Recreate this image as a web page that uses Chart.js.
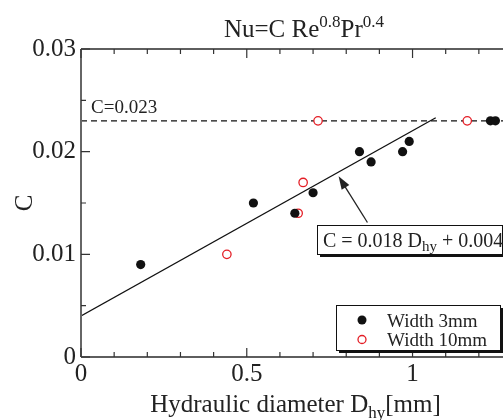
<!DOCTYPE html>
<html>
<head>
<meta charset="utf-8">
<script src="https://cdn.jsdelivr.net/npm/chart.js@4.4.1/dist/chart.umd.min.js"></script>
<style>
  html, body { margin: 0; padding: 0; background: #fff; overflow: hidden; width: 503px; height: 420px; }
  #wrap { width: 540px; height: 420px; }
</style>
</head>
<body>
<div id="wrap"><canvas id="chart" width="540" height="420"></canvas></div>
<script>
// Measured C values vs hydraulic diameter, two channel widths
const width3Dhy = [0.18, 0.52, 0.645, 0.70, 0.84, 0.875, 0.97, 0.99, 1.235, 1.25];
const width3C = [0.009, 0.015, 0.014, 0.016, 0.020, 0.019, 0.020, 0.021, 0.023, 0.023];
const width10Dhy = [0.44, 0.655, 0.67, 0.715, 1.165];
const width10C = [0.010, 0.014, 0.017, 0.023, 0.023];

// Fitted line (C = 0.018 Dhy + 0.004) end points, and the C=0.023 reference
const fitDhy = [0, 1.07];
const fitC = [0.004, 0.0233];
const refDhy = [0, 1.3];
const refC = [0.023, 0.023];

// Axis ticks
const xTicks = [0, 0.5, 1];
const yTicks = [0, 0.01, 0.02, 0.03];
const xMinorStep = 0.1;
const yMinorStep = 0.005;

const SERIF = '"Liberation Serif", "Times New Roman", serif';
const INK = "#222";
const RED = "#e41e26";

const toPoints = (xs, ys) => xs.map((x, i) => ({ x: x, y: ys[i] }));

/**
 * Draw a run of text pieces (for super/subscripts)
 */
function richText(ctx, parts, x, y, align) {
  const widths = parts.map((p) => {
    ctx.font = p.size + "px " + SERIF;
    return ctx.measureText(p.text).width;
  });
  const total = widths.reduce((a, b) => a + b, 0);
  let cx = align === "center" ? x - total / 2 : x;
  ctx.textAlign = "left";
  ctx.textBaseline = "alphabetic";
  parts.forEach((p, i) => {
    ctx.font = p.size + "px " + SERIF;
    ctx.fillText(p.text, cx, y + (p.dy || 0));
    cx += widths[i];
  });
}

const decorations = {
  id: "decorations",
  afterDatasetsDraw(chart) {
    const { ctx, chartArea: a, scales } = chart;
    const sx = scales.x;
    const sy = scales.y;
    ctx.save();

    // frame
    ctx.lineWidth = 1.5;
    ctx.strokeStyle = "#2a2a2a";
    ctx.beginPath();
    ctx.moveTo(a.left, a.top);
    ctx.lineTo(a.right, a.top);
    ctx.lineTo(a.right, a.bottom);
    ctx.lineTo(a.left, a.bottom);
    ctx.stroke();
    ctx.lineWidth = 2;
    ctx.strokeStyle = "#666";
    ctx.beginPath();
    ctx.moveTo(a.left, a.top);
    ctx.lineTo(a.left, a.bottom);
    ctx.stroke();

    // inward ticks
    ctx.lineWidth = 1.2;
    ctx.strokeStyle = "#333";
    ctx.beginPath();
    for (let v = 0; v <= sx.max + 1e-9; v += xMinorStep) {
      const px = sx.getPixelForValue(v);
      const major = xTicks.some((t) => Math.abs(t - v) < 1e-6);
      const len = major ? 9 : 5;
      ctx.moveTo(px, a.bottom);
      ctx.lineTo(px, a.bottom - len);
      ctx.moveTo(px, a.top);
      ctx.lineTo(px, a.top + len);
    }
    for (let v = 0; v <= sy.max + 1e-9; v += yMinorStep) {
      const py = sy.getPixelForValue(v);
      const major = yTicks.some((t) => Math.abs(t - v) < 1e-6);
      const len = major ? 9 : 5;
      ctx.moveTo(a.left, py);
      ctx.lineTo(a.left + len, py);
      ctx.moveTo(a.right, py);
      ctx.lineTo(a.right - len, py);
    }
    ctx.stroke();

    ctx.fillStyle = INK;

    // title
    richText(ctx, [
      { text: "Nu=C Re", size: 25 },
      { text: "0.8", size: 17, dy: -10 },
      { text: "Pr", size: 25 },
      { text: "0.4", size: 17, dy: -10 },
    ], 304, 37, "center");

    // x axis title
    richText(ctx, [
      { text: "Hydraulic diameter D", size: 25 },
      { text: "hy", size: 17, dy: 6 },
      { text: "[mm]", size: 25 },
    ], (a.left + a.right) / 2 - 1, 412, "center");

    // y axis title
    ctx.save();
    ctx.translate(32, (a.top + a.bottom) / 2);
    ctx.rotate(-Math.PI / 2);
    ctx.font = "25px " + SERIF;
    ctx.textAlign = "center";
    ctx.textBaseline = "alphabetic";
    ctx.fillText("C", 0, 0);
    ctx.restore();

    // reference label
    ctx.font = "19px " + SERIF;
    ctx.textAlign = "left";
    ctx.fillText("C=0.023", 91, 113);

    // arrow from the equation box to the fit line
    const tailX = sx.getPixelForValue(0.864);
    const tailY = sy.getPixelForValue(0.0131);
    const tipX = sx.getPixelForValue(0.777);
    const tipY = sy.getPixelForValue(0.0176);
    const ang = Math.atan2(tipY - tailY, tipX - tailX);
    ctx.strokeStyle = INK;
    ctx.lineWidth = 1.3;
    ctx.beginPath();
    ctx.moveTo(tailX, tailY);
    ctx.lineTo(tipX - 10 * Math.cos(ang), tipY - 10 * Math.sin(ang));
    ctx.stroke();
    ctx.beginPath();
    ctx.moveTo(tipX, tipY);
    ctx.lineTo(tipX - 13 * Math.cos(ang) + 4.5 * Math.sin(ang), tipY - 13 * Math.sin(ang) - 4.5 * Math.cos(ang));
    ctx.lineTo(tipX - 13 * Math.cos(ang) - 4.5 * Math.sin(ang), tipY - 13 * Math.sin(ang) + 4.5 * Math.cos(ang));
    ctx.closePath();
    ctx.fill();

    // equation box with drop shadow
    ctx.fillStyle = "#111";
    ctx.fillRect(320, 228, 185, 29);
    ctx.fillStyle = "#fff";
    ctx.fillRect(317, 225, 185, 29);
    ctx.lineWidth = 1;
    ctx.strokeStyle = "#111";
    ctx.strokeRect(317.5, 225.5, 185, 29);
    ctx.fillStyle = INK;
    richText(ctx, [
      { text: "C = 0.018 D", size: 20 },
      { text: "hy", size: 15, dy: 4 },
      { text: " + 0.004", size: 20 },
    ], 323, 246.5, "left");

    // legend with drop shadow
    ctx.fillStyle = "#111";
    ctx.fillRect(339, 308, 164, 45);
    ctx.fillStyle = "#fff";
    ctx.fillRect(336, 305, 164, 45);
    ctx.strokeRect(336.5, 305.5, 164, 45);
    const ds = chart.data.datasets;
    ctx.beginPath();
    ctx.arc(362, 320, 4.5, 0, Math.PI * 2);
    ctx.fillStyle = ds[0].backgroundColor;
    ctx.fill();
    ctx.beginPath();
    ctx.arc(362, 339.5, 4, 0, Math.PI * 2);
    ctx.lineWidth = 1.3;
    ctx.strokeStyle = ds[1].borderColor;
    ctx.stroke();
    ctx.fillStyle = INK;
    ctx.font = "19px " + SERIF;
    ctx.textAlign = "left";
    ctx.fillText(ds[0].label, 387, 327);
    ctx.fillText(ds[1].label, 387, 346);

    ctx.restore();
  },
};

new Chart(document.getElementById("chart"), {
  type: "scatter",
  data: {
    datasets: [
      {
        label: "Width 3mm",
        data: toPoints(width3Dhy, width3C),
        backgroundColor: "#111",
        borderColor: "#111",
        borderWidth: 0,
        pointRadius: 4.6,
      },
      {
        label: "Width 10mm",
        data: toPoints(width10Dhy, width10C),
        backgroundColor: "#fff",
        borderColor: RED,
        borderWidth: 1.3,
        pointRadius: 4.2,
      },
      {
        label: "fit",
        data: toPoints(fitDhy, fitC),
        showLine: true,
        borderColor: "#111",
        borderWidth: 1.3,
        pointRadius: 0,
      },
      {
        label: "C=0.023",
        data: toPoints(refDhy, refC),
        showLine: true,
        borderColor: "#111",
        borderWidth: 1.2,
        borderDash: [6, 4],
        pointRadius: 0,
      },
    ],
  },
  options: {
    responsive: false,
    animation: false,
    events: [],
    layout: { padding: { top: 49, right: 28, left: 0, bottom: 0 } },
    plugins: {
      legend: { display: false },
      tooltip: { enabled: false },
      title: { display: false },
    },
    scales: {
      x: {
        type: "linear",
        min: 0,
        max: 1.3,
        grid: { display: false, drawTicks: false },
        border: { display: false },
        afterFit: (s) => { s.height = 63; },
        afterBuildTicks: (s) => { s.ticks = xTicks.map((v) => ({ value: v })); },
        ticks: {
          autoSkip: false,
          maxRotation: 0,
          padding: 2,
          color: INK,
          font: { family: SERIF, size: 25 },
          callback: (v) => String(v),
        },
      },
      y: {
        type: "linear",
        min: 0,
        max: 0.03,
        grid: { display: false, drawTicks: false },
        border: { display: false },
        afterFit: (s) => { s.width = 81; },
        afterBuildTicks: (s) => { s.ticks = yTicks.map((v) => ({ value: v })); },
        ticks: {
          autoSkip: false,
          padding: 5,
          color: INK,
          font: { family: SERIF, size: 25 },
          callback: (v) => (v === 0 ? "0" : v.toFixed(2)),
        },
      },
    },
  },
  plugins: [decorations],
});
</script>
</body>
</html>
